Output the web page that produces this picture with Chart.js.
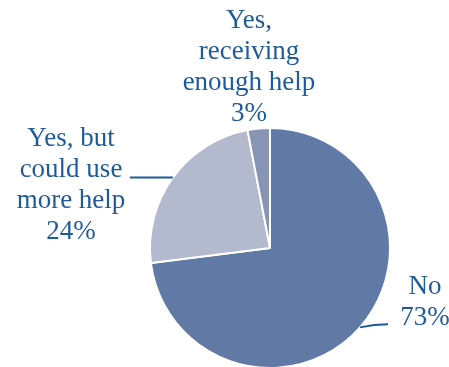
<!DOCTYPE html>
<html>
<head>
<meta charset="utf-8">
<script src="https://cdn.jsdelivr.net/npm/chart.js@4/dist/chart.umd.min.js"></script>
<style>
  html, body { margin: 0; padding: 0; background: #ffffff; overflow: hidden; }
  #wrap { width: 449px; height: 367px; overflow: hidden; }
</style>
</head>
<body>
<div id="wrap"><canvas id="c" width="449" height="380"></canvas></div>
<script>
// Survey answers and their shares (percent)
const categories = ['No', 'Yes, but could use more help', 'Yes, receiving enough help'];
const shares = [73, 24, 3];
const labelLines = [
  ['No', '73%'],
  ['Yes, but', 'could use', 'more help', '24%'],
  ['Yes,', 'receiving', 'enough help', '3%']
];
const sliceColors = ['#6179a5', '#b3bacd', '#8794b4'];

const TEXT_COLOR = '#1f5b9a';
const FONT = '27px "Liberation Serif", "Times New Roman", serif';
const LINE_H = 31;

// Label block centres relative to the pie centre, plus the leader-line style
const labelLayout = [
  { dx: 155, dy: 54, leader: 'right' },
  { dx: -199, dy: -63, leader: 'left' },
  { dx: -21, dy: -181, leader: 'none' }
];

const pieLabels = {
  id: 'pieLabels',
  afterDraw(chart) {
    const ctx = chart.ctx;
    const meta = chart.getDatasetMeta(0);
    ctx.save();
    ctx.font = FONT;
    ctx.fillStyle = TEXT_COLOR;
    ctx.strokeStyle = TEXT_COLOR;
    ctx.lineWidth = 2;
    ctx.textAlign = 'center';
    ctx.textBaseline = 'middle';
    meta.data.forEach((arc, i) => {
      const p = arc.getProps(['x', 'y', 'startAngle', 'endAngle', 'outerRadius'], true);
      const mid = (p.startAngle + p.endAngle) / 2;
      const ex = p.x + Math.cos(mid) * p.outerRadius;
      const ey = p.y + Math.sin(mid) * p.outerRadius;
      const lay = labelLayout[i];
      const cx = p.x + lay.dx;
      const cy = p.y + lay.dy;
      const lines = labelLines[i];
      const top = cy - (lines.length - 1) * LINE_H / 2;
      lines.forEach((t, k) => ctx.fillText(t, cx, top + k * LINE_H));
      if (lay.leader === 'left') {
        ctx.beginPath();
        ctx.moveTo(ex, ey);
        ctx.lineTo(ex - 43, ey);
        ctx.stroke();
      } else if (lay.leader === 'right') {
        ctx.beginPath();
        ctx.moveTo(ex, ey);
        ctx.quadraticCurveTo(ex + 14, ey - 3, ex + 28, ey - 3);
        ctx.stroke();
      }
    });
    ctx.restore();
  }
};

new Chart(document.getElementById('c'), {
  type: 'pie',
  data: {
    labels: categories,
    datasets: [{
      data: shares,
      backgroundColor: sliceColors,
      borderColor: '#ffffff',
      borderWidth: 2,
      hoverOffset: 0
    }]
  },
  options: {
    responsive: false,
    animation: false,
    events: [],
    layout: { padding: { left: 149, right: 58, top: 127, bottom: 11 } },
    plugins: { legend: { display: false }, tooltip: { enabled: false } }
  },
  plugins: [pieLabels]
});
</script>
</body>
</html>
